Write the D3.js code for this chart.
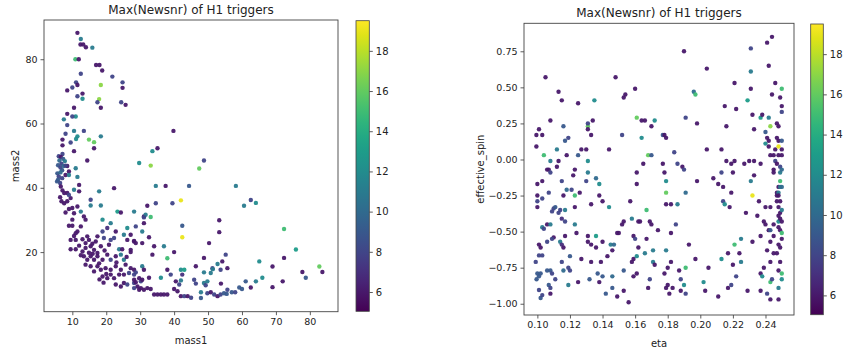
<!DOCTYPE html>
<html><head><meta charset="utf-8">
<script src="https://cdn.jsdelivr.net/npm/d3@7"></script>
<style>body{margin:0;background:#fff}text{font-family:"DejaVu Sans",sans-serif;fill:#222}</style>
</head><body><svg id="c" width="843" height="351"></svg>
<script>
// [mass1, mass2, newsnr]
const massPoints = [
[11.5,88.2,6],[12.5,86.3,11],[12.4,84.6,6],[13.2,84.6,6],[14.0,83.7,6],[15.9,83.6,11],[10.9,80,15],[11.9,80,6],[17.0,78.2,6],[18.0,78.2,6],[18.8,76.5,6],[12.5,75.5,8],[21.8,74.6,8],[24.8,72.8,8],[11.1,72.8,8],[11.5,72.0,6],[18.4,72.0,17],[10.0,71.2,8],[24.8,71.1,6],[8.5,70.3,6],[13.0,69.3,6],[11.5,68.5,8],[13.0,67.7,12],[17.9,67.6,17],[17.4,66.6,8],[24.4,66.6,8],[25.7,65.8,6],[18.4,64.9,6],[10.5,64.9,6],[8.5,63.0,6],[11.0,62.2,12],[10.0,62.2,8],[7.5,61.3,11],[8.5,59.5,8],[39.8,57.7,6],[10.5,57.7,11],[13.4,57.7,8],[11.5,56.0,12],[11.1,55.2,12],[18.4,56.0,11],[14.9,55.0,16],[16.4,54.2,16],[8.0,56.8,8],[7.1,55.0,6],[9.5,54.1,8],[7.1,53.2,6],[16.4,52.3,6],[35.1,52.3,6],[33.6,51.4,12],[10.5,51.4,6],[7.1,50.5,8],
[6.0,49.8,8],[6.6,49.6,6],[7.3,49.0,9],[6.2,48.5,10],[7.8,48.3,11],[6.8,47.5,8],[5.8,47.0,9],[6.5,46.3,8],[7.0,45.5,9],[5.6,44.5,9],[6.0,43.5,8],[5.8,42.5,9],[6.4,41.5,8],[5.5,42.0,9],[7.0,43.0,8],[6.5,44.8,10],[7.5,46.8,10],
[8.5,46.8,6],[11.0,46.1,11],[14.4,48.5,6],[48.8,48.5,8],[29.7,47.7,12],[33.1,46.9,17],[47.4,46.0,16],[8.0,46.9,8],[9.0,45.1,6],[8.0,44.0,6],[9.0,44.0,11],[11.5,43.4,11],
[6.6,40.4,6],[7.1,39.2,6],[7.6,38.4,6],[8.5,38.4,6],[10.5,39.4,11],[12.0,40.9,6],[12.0,38.9,6],[17.9,38.9,11],[22.3,39.9,6],[6.4,37.1,6],[6.8,35.8,6],[7.6,35.2,6],[8.5,35.8,6],[9.5,36.8,6],[9.0,37.8,8],[15.4,36.3,8],[15.4,34.5,11],[18.4,34.5,11],[9.0,33.4,6],[10.0,33.7,6],[8.0,32.3,6],[10.5,32.1,6],[12.5,32.6,11],[11.5,34.2,6],[13.4,31.1,6],[13.9,30.1,6],[10.0,30.1,6],[18.9,30.1,12],[21.3,29.0,11],[23.3,32.6,13],[24.3,32.3,6],[28.2,32.6,11],[31.1,31.1,6],[9.0,28.2,6],[10.0,28.2,6],[11.5,26.4,6],[11.0,25.9,6],[26.2,27.5,12],[28.7,28.0,8],[30.6,26.4,11],[20.3,27.5,7],[22.8,26.4,6],[18.9,26.4,8],[17.4,24.9,6],[9.5,23.8,6],[11.0,23.8,6],[14.4,24.9,6],[14.9,23.8,6],[16.9,23.3,6],[13.9,22.8,6],[19.3,24.4,8],[21.3,23.8,8],[22.3,24.4,8],[25.2,25.4,11],[26.2,23.8,6],[28.2,23.3,6],[9.5,20.9,6],[11.0,20.9,6],[13.9,21.3,6],[13.0,20.2,6],[15.4,21.8,6],[16.4,20.7,6],[17.4,19.7,6],[18.4,21.8,6],[20.8,22.3,6],[23.8,20.9,11],[24.7,20.9,6],[27.2,20.7,6],[13.4,18.7,6],[14.4,17.6,6],[15.4,18.7,6],[16.4,17.6,6],[17.4,18.7,6],[18.9,17.6,6],[20.3,19.2,6],[21.3,17.6,8],[22.8,18.7,6],[24.3,19.2,11],[25.2,17.6,11],[30.6,15.6,11],[13.9,16.1,6],[15.4,15.6,6],[17.4,15.6,6],[18.4,14.5,6],[16.4,14.0,6],[19.8,15.0,6],[21.3,14.5,6],[22.8,15.6,6],[24.3,14.5,6],[25.7,16.1,6],[27.2,15.0,6],[18.9,12.4,6],[20.3,11.9,6],[21.3,13.0,6],[22.3,11.9,6],[23.8,13.0,6],[25.2,13.0,6],[26.7,13.5,8],[28.2,13.0,8],[29.7,11.9,6],[22.8,9.9,6],[24.3,9.3,6],[25.2,10.4,6],[26.2,9.9,8],[28.2,10.4,8],[29.2,9.3,6],[30.2,10.9,8],[29.7,8.3,6],
[12.0,22.0,6],[13.0,24.0,6],[15.9,22.6,6],[16.0,19.5,6],[17.9,16.5,6],[19.5,20.5,6],[20.0,13.2,6],[14.9,19.8,6],[12.5,19.0,6],[18.0,11.5,6],[19.2,10.5,6],[23.0,16.8,6],[26.0,18.5,6],[10.5,25.0,6],[12.5,28.0,6],
[32.1,34.4,6],[34.6,35.2,8],[39.5,35.2,8],[42.0,36.1,19],[31.6,31.6,11],[31.1,30.8,8],[33.1,30.9,15],[31.1,29.0,6],[42.4,28.2,9],[53.3,29.9,6],[53.3,26.2,6],[27.2,25.4,6],[28.2,23.5,6],[28.7,22.8,6],[30.6,22.8,6],[32.6,24.6,6],[42.4,24.6,19],[34.1,21.8,6],[37.0,21.8,11],[50.3,22.8,6],[27.2,20.0,6],[33.6,19.2,6],[40.0,20.0,6],[38.0,18.1,15],[55.2,19.2,8],[54.2,17.1,6],[52.8,16.3,11],[51.3,15.0,8],[46.4,15.6,6],[28.2,14.5,6],[28.7,13.7,8],[31.1,14.5,6],[38.0,14.5,6],[42.0,14.5,12],[43.0,14.5,13],[36.1,12.0,12],[39.0,13.0,8],[42.4,13.0,7],[48.8,13.7,11],[50.8,13.5,11],[53.7,14.5,8],[55.7,15.0,6],[28.2,11.4,6],[28.7,10.6,6],[30.6,11.4,6],[32.6,12.0,6],[40.5,10.9,6],[41.5,9.9,8],[42.0,11.2,11],[45.9,11.4,8],[48.8,10.4,11],[49.8,10.9,11],[28.2,8.8,8],[30.2,8.8,6],[31.1,8.3,6],[32.1,8.8,6],[33.1,8.5,6],[34.1,6.8,6],[35.1,6.8,6],[36.1,6.8,6],[37.0,6.8,6],[38.0,6.8,6],[40.0,8.5,6],[41.0,7.8,6],[42.0,6.3,6],[43.0,6.3,8],[44.0,6.3,6],[45.0,5.8,8],[47.9,7.5,11],[47.9,5.7,9],[49.8,7.2,8],[50.8,7.5,6],[51.8,6.8,8],[52.8,6.3,6],[53.7,6.8,8],[54.7,7.2,9],[55.7,8.3,8],[55.5,7.0,9],
[65.1,17.1,12],[69.0,15.5,6],[82.8,15.5,16],[77.8,13.8,6],[83.7,13.8,6],[78.8,12.0,9],[66.0,12.0,12],[61.1,10.9,9],[64.1,10.9,11],[59.2,9.0,9],[62.6,9.0,6],[69.0,9.1,6],[72.0,10.9,6],[72.4,18.2,6],[75.9,20.8,13],[72.4,27.2,15],[53.8,10.2,6],[60.6,34.4,11],[62.6,36.2,8],[64.1,35.3,12],[58.2,40.6,11],[44.4,40.6,9],[37.5,40.6,6],[34.6,40.6,11],[48.8,18.2,6],[51.4,14.7,11],[46.4,10.2,8],[49.3,9.7,8],[57.0,7.5,9],[58.0,7.5,8],[60.0,8.5,9]
];
// [eta, effective_spin, newsnr]
const spinPoints = [
[0.0994,0.09,6],[0.0994,0.17,6],[0.100,-0.17,6],[0.101,0.21,6],[0.103,0.17,6],[0.100,-0.25,6],[0.100,-0.29,8],[0.100,-0.33,6],[0.103,-0.15,6],[0.103,-0.27,8],[0.104,0.03,15],[0.105,0.57,6],[0.106,-0.07,6],[0.107,-0.07,6],[0.108,-0.09,8],[0.108,-0.01,11],[0.108,0.27,6],[0.107,-0.23,8],[0.103,-0.47,11],[0.104,-0.48,8],[0.106,-0.45,6],[0.108,-0.45,11],[0.106,-0.57,8],[0.101,-0.59,6],[0.102,-0.61,6],[0.101,-0.665,8],[0.103,-0.665,8],[0.099,-0.71,8],[0.100,-0.79,9],[0.101,-0.81,9],[0.0995,-0.83,9],[0.102,-0.79,9],[0.101,-0.905,8],[0.102,-0.96,9],[0.103,-0.94,8],[0.106,-0.77,9],[0.108,-0.77,9],[0.109,-0.79,8],[0.107,-0.87,9],[0.108,-0.89,8],[0.108,-0.93,6],[0.110,-0.54,6],[0.109,-0.55,8],[0.111,-0.83,8],[0.110,-0.34,8],[0.111,-0.33,9],[0.109,-0.36,8],
[0.112,0.07,11],[0.112,-0.05,6],[0.113,0.47,6],[0.115,0.41,6],[0.113,-0.01,6],[0.115,-0.15,8],[0.116,0.23,9],[0.117,0.13,9],[0.118,0.03,6],[0.119,0.15,8],[0.114,-0.35,8],[0.113,-0.37,8],[0.115,-0.41,7],[0.117,-0.43,8],[0.117,-0.35,11],[0.116,-0.25,6],[0.118,-0.21,10],[0.117,-0.53,6],[0.114,-0.57,11],[0.115,-0.59,7],[0.116,-0.61,6],[0.115,-0.71,8],[0.116,-0.77,10],[0.119,-0.75,8],[0.120,-0.77,8],[0.119,-0.87,11],[0.120,-0.67,9],[0.122,-0.11,6],[0.121,-0.21,8],[0.123,-0.07,6],[0.123,-0.25,15],[0.123,-0.33,6],[0.123,-0.45,11],[0.124,-0.51,6],[0.125,0.39,6],[0.125,0.03,9],[0.127,0.07,6],[0.125,-0.85,6],[0.127,-0.69,6],[0.126,-0.23,6],[0.130,-0.15,8],[0.130,0.07,6],[0.131,0.23,16],[0.131,0.25,8],[0.131,0.21,6],[0.131,-0.01,12],[0.131,-0.09,11],[0.131,-0.53,6],[0.131,-0.57,6],[0.132,-0.83,9],[0.133,0.17,6],[0.134,0.27,6],[0.133,-0.31,6],[0.133,-0.59,6],[0.133,-0.71,6],[0.135,0.41,12],[0.136,-0.13,10],[0.136,-0.53,13],[0.136,-0.61,6],[0.137,-0.79,9],[0.138,-0.17,12],[0.138,-0.25,6],[0.138,-0.85,6],[0.140,-0.29,6],[0.140,-0.57,6],[0.139,-0.71,6],[0.140,-0.81,9],[0.142,-0.93,9],[0.143,-0.67,6],[0.144,0.07,6],[0.144,-0.33,12],[0.145,-0.59,11],[0.147,-0.59,10],[0.146,-0.63,6],[0.146,-0.81,10],[0.146,-0.89,9],[0.148,0.57,6],[0.149,-0.51,6],[0.150,-0.51,6],[0.149,-0.95,6],
[0.152,0.17,8],[0.152,-0.45,6],[0.153,-0.43,6],[0.153,0.43,6],[0.154,0.45,6],[0.153,-0.77,9],[0.153,-0.91,6],[0.156,-0.99,6],[0.157,-0.29,6],[0.158,-0.41,11],[0.159,-0.53,6],[0.160,-0.55,8],[0.159,-0.69,6],[0.158,-0.71,6],[0.159,-0.81,6],[0.160,0.49,6],[0.161,-0.09,6],[0.161,-0.17,6],[0.161,0.29,16],[0.162,-0.43,6],[0.163,-0.43,6],[0.161,-0.67,12],[0.162,-0.61,6],[0.161,-0.79,6],[0.164,0.15,12],[0.164,0.27,6],[0.166,0.27,6],[0.165,-0.03,6],[0.166,-0.65,11],[0.167,-0.35,15],[0.167,-0.55,6],[0.168,0.03,16],[0.168,-0.89,6],[0.169,-0.43,6],[0.170,-0.45,6],[0.169,-0.83,8],[0.170,0.03,9],[0.170,0.23,6],[0.172,0.27,12],[0.171,-0.71,11],[0.172,-0.73,6],[0.171,-0.63,11],[0.174,-0.49,6],[0.177,0.17,9],[0.177,-0.03,6],[0.178,-0.09,6],[0.178,0.17,6],[0.179,0.15,6],[0.179,-0.15,12],[0.179,-0.23,16],[0.179,-0.31,6],[0.179,-0.63,11],[0.178,-0.79,6],[0.179,-0.89,6],[0.180,-0.75,6],[0.180,-0.87,6],[0.181,-0.93,6],[0.182,-0.31,6],[0.182,-0.51,6],[0.182,-0.71,6],[0.183,-0.89,6],[0.184,0.05,8],[0.185,-0.45,8],[0.186,-0.31,11],[0.186,-0.03,8],[0.187,-0.77,6],[0.188,-0.83,8],[0.188,-0.91,6],[0.189,-0.05,6],[0.190,-0.07,8],[0.190,-0.87,12],[0.190,0.75,6],[0.191,-0.93,8],[0.191,0.29,8],[0.191,-0.23,10],[0.191,-0.75,15],[0.193,-0.59,6],[0.196,0.47,10],[0.197,0.45,15],[0.197,-0.69,6],[0.198,0.25,6],[0.198,-0.15,6],
[0.202,-0.85,12],[0.203,-0.91,6],[0.204,0.63,6],[0.204,0.07,6],[0.205,-0.75,6],[0.208,-0.13,6],[0.211,-0.95,6],[0.211,-0.17,6],[0.213,0.07,6],[0.213,-0.09,8],[0.213,-0.69,12],[0.214,-0.19,6],[0.214,-0.29,8],[0.215,-0.31,12],[0.215,0.37,6],[0.216,0.23,6],[0.216,-0.01,6],[0.217,-0.65,6],[0.217,-0.89,6],[0.218,-0.33,6],[0.219,-0.03,6],[0.219,-0.87,8],[0.220,-0.09,6],[0.220,-0.73,6],[0.219,-0.23,6],[0.221,-0.01,6],[0.221,-0.59,15],[0.221,0.53,6],[0.222,0.35,6],[0.222,-0.81,8],[0.224,-0.65,6],[0.225,-0.55,11],[0.225,-0.71,11],[0.227,-0.03,6],[0.228,-0.37,6],[0.229,0.41,13],[0.229,-0.91,6],[0.230,-0.01,6],[0.231,0.77,8],[0.231,0.61,11],[0.231,0.49,6],[0.231,-0.15,11],[0.232,0.31,6],[0.232,-0.25,19],[0.232,-0.57,6],[0.233,-0.11,6],[0.233,0.21,6],[0.233,-0.01,6],[0.235,-0.39,6],[0.236,-0.29,6],[0.237,-0.53,6],[0.237,-0.91,6],[0.237,0.29,13],[0.238,0.31,6],[0.237,-0.03,6],[0.237,-0.79,6],[0.238,-0.81,12],[0.239,-0.43,6],[0.239,-0.75,6],[0.240,-0.45,6],[0.240,-0.33,6],[0.240,0.11,12],[0.240,0.19,9],[0.241,0.81,6],[0.241,-0.63,6],[0.241,0.15,6],[0.241,-0.93,8],[0.242,-0.49,6],[0.242,0.65,6],[0.242,0.13,6],[0.242,0.09,6],[0.242,0.29,11],[0.243,-0.57,6],[0.243,-0.71,6],[0.243,0.23,17],[0.243,0.03,6],[0.243,-0.85,15],[0.243,-0.49,9],[0.243,-0.33,6],[0.243,-0.97,6],[0.244,0.85,6],[0.244,0.45,6],[0.244,-0.83,8],[0.245,0.03,6],[0.245,-0.07,6],[0.245,-0.09,6],[0.245,-0.45,6],[0.245,-0.53,6],[0.245,-0.65,6],[0.246,-0.01,8],[0.246,0.53,6],[0.246,0.07,6],[0.247,0.15,6],[0.247,-0.03,6],[0.247,-0.23,6],[0.247,-0.25,6],[0.247,-0.29,6],[0.247,-0.65,6],[0.247,0.25,6],[0.248,-0.59,6],[0.248,-0.43,12],[0.248,-0.47,6],[0.248,0.09,19],[0.248,0.03,6],[0.248,-0.23,11],[0.248,-0.33,6],[0.248,-0.39,6],[0.248,0.23,6],[0.248,0.13,6],[0.248,-0.19,6],[0.248,-0.25,6],[0.248,-0.77,6],[0.248,-0.89,11],[0.248,-0.97,6],[0.249,0.43,6],[0.249,-0.61,6],[0.249,-0.05,8],[0.249,-0.09,11],[0.249,-0.15,15],[0.249,-0.19,11],[0.249,-0.29,6],[0.249,-0.37,6],[0.249,-0.41,6],[0.249,-0.49,6],[0.249,-0.71,6],[0.250,0.49,15],[0.250,0.37,6],[0.250,0.33,8],[0.250,0.13,9],[0.250,0.07,6],[0.250,0.03,6],[0.250,-0.07,10],[0.250,-0.19,10],[0.250,-0.35,11],[0.250,-0.43,6],[0.250,-0.51,15],[0.250,-0.55,6],[0.250,-0.79,15],[0.250,-0.83,12]
];
const massXTicks = [10,20,30,40,50,60,70,80];
const massYTicks = [20,40,60,80];
const etaTicks = [0.10,0.12,0.14,0.16,0.18,0.20,0.22,0.24];
const spinTicks = [-1.00,-0.75,-0.50,-0.25,0.00,0.25,0.50,0.75];
const cbarTicks = [6,8,10,12,14,16,18];
const snrRange = [5.04,19.5];
const titleText = "Max(Newsnr) of H1 triggers";

const svg = d3.select("#c");
const color = d3.scaleSequential(d3.interpolateViridis).domain(snrRange);

const defs = svg.append("defs");
const grad = defs.append("linearGradient").attr("id","vir").attr("x1",0).attr("y1",1).attr("x2",0).attr("y2",0);
d3.range(0,1.0001,0.05).forEach(t=>grad.append("stop").attr("offset",t).attr("stop-color",d3.interpolateViridis(t)));

function panel(o){
  const x = d3.scaleLinear().domain(o.xd).range([o.l,o.r]);
  const y = d3.scaleLinear().domain(o.yd).range([o.b,o.t]);
  const g = svg.append("g");
  g.append("g").selectAll("circle").data(o.pts).join("circle")
    .attr("cx",d=>x(d[0])).attr("cy",d=>y(d[1])).attr("r",2.2)
    .attr("fill",d=>color(d[2])).attr("fill-opacity",0.95);
  const ax = g.append("g").attr("transform",`translate(0,${o.b})`)
    .call(d3.axisBottom(x).tickValues(o.xt).tickSize(3.5).tickPadding(3).tickFormat(o.xf));
  const ay = g.append("g").attr("transform",`translate(${o.l},0)`)
    .call(d3.axisLeft(y).tickValues(o.yt).tickSize(3.5).tickPadding(3).tickFormat(o.yf));
  [ax,ay].forEach(a=>{a.select(".domain").remove();a.selectAll("line").attr("stroke","#333").attr("stroke-width",0.8);
    a.selectAll("text").attr("font-size",9.5).attr("fill","#222").style("font-family","DejaVu Sans");});
  g.append("rect").attr("x",o.l).attr("y",o.t).attr("width",o.r-o.l).attr("height",o.b-o.t)
    .attr("fill","none").attr("stroke","#444").attr("stroke-width",0.9);
  g.append("text").attr("x",(o.l+o.r)/2).attr("y",o.titleY).attr("text-anchor","middle").attr("font-size",12).text(titleText);
  g.append("text").attr("x",(o.l+o.r)/2).attr("y",o.xlY).attr("text-anchor","middle").attr("font-size",10).text(o.xl);
  g.append("text").attr("transform",`translate(${o.ylX},${(o.t+o.b)/2}) rotate(-90)`).attr("text-anchor","middle").attr("font-size",10).text(o.yl);
  const cy = d3.scaleLinear().domain(snrRange).range([o.cb,o.ct]);
  g.append("rect").attr("x",o.cl).attr("y",o.ct).attr("width",o.cw).attr("height",o.cb-o.ct).attr("fill","url(#vir)");
  const ac = g.append("g").attr("transform",`translate(${o.cl+o.cw},0)`)
    .call(d3.axisRight(cy).tickValues(cbarTicks).tickSize(3.5).tickPadding(3));
  ac.select(".domain").remove();
  ac.selectAll("line").attr("stroke","#333").attr("stroke-width",0.8);
  ac.selectAll("text").attr("font-size",10).attr("fill","#222").style("font-family","DejaVu Sans");
  g.append("rect").attr("x",o.cl).attr("y",o.ct).attr("width",o.cw).attr("height",o.cb-o.ct)
    .attr("fill","none").attr("stroke","#444").attr("stroke-width",0.8);
}

panel({pts:massPoints, xd:[1.65,88.3], yd:[1.46,92.2], l:44, r:338, t:20, b:311.7,
  xt:massXTicks, yt:massYTicks, xf:d3.format("d"), yf:d3.format("d"),
  titleY:13.5, xl:"mass1", xlY:344, yl:"mass2", ylX:19,
  cl:356, cw:13.3, ct:20.7, cb:311.3});
panel({pts:spinPoints, xd:[0.0918,0.2575], yd:[-1.078,0.944], l:524, r:794, t:23.3, b:315,
  xt:etaTicks, yt:spinTicks, xf:d3.format(".2f"), yf:d=>d3.format(".2f")(d).replace("-","\u2212"),
  titleY:16.7, xl:"eta", xlY:347, yl:"effective_spin", ylX:484,
  cl:810.7, cw:12.6, ct:24, cb:314.7});
</script></body></html>
